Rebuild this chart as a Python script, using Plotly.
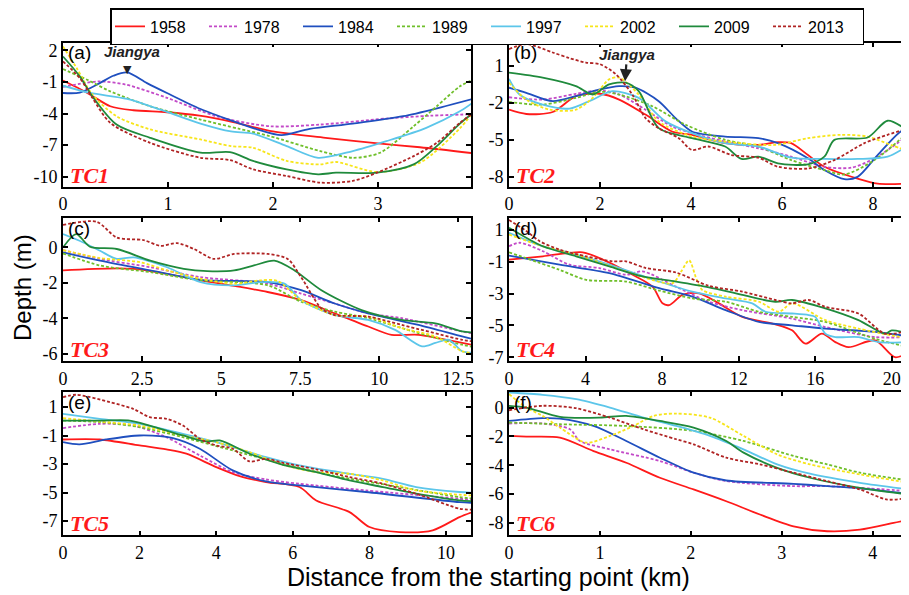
import plotly.graph_objects as go

YEARS = ["1958", "1978", "1984", "1989", "1997", "2002", "2009", "2013"]
COLORS = ["#ff1a1a", "#c34ac8", "#1f4fbf", "#6fbf2a", "#5cc6ea", "#f7e51a", "#1f8a3c", "#b02424"]
DASHES = ["solid", "3px,2px", "solid", "3px,2px", "solid", "3px,2px", "solid", "3px,2px"]

# ---------------- TC1 (a) ----------------
TC1_DIST = {
    "1958": [0, 0.13, 0.26, 0.45, 0.67, 0.99, 1.3, 1.62, 2.0, 2.5, 3.0, 3.4, 3.89],
    "1978": [0, 0.2, 0.35, 0.6, 0.99, 1.46, 1.97, 2.45, 3.08, 3.5, 3.89],
    "1984": [0, 0.16, 0.35, 0.48, 0.61, 0.8, 0.99, 1.31, 1.62, 1.85, 2.08, 2.35, 2.76, 3.24, 3.6, 3.89],
    "1989": [0, 0.23, 0.45, 0.83, 1.31, 1.68, 1.97, 2.45, 2.76, 3.02, 3.34, 3.56, 3.78, 3.89],
    "1997": [0, 0.26, 0.61, 0.92, 1.31, 1.6, 1.81, 2.13, 2.43, 2.76, 3.08, 3.46, 3.78, 3.89],
    "2002": [0, 0.13, 0.28, 0.51, 0.83, 1.31, 1.6, 1.81, 2.13, 2.45, 2.6, 2.99, 3.4, 3.78, 3.89],
    "2009": [0, 0.16, 0.28, 0.51, 0.83, 1.31, 1.59, 1.81, 2.13, 2.43, 2.6, 2.99, 3.34, 3.56, 3.78, 3.89],
    "2013": [0, 0.16, 0.28, 0.45, 0.83, 1.31, 1.59, 1.81, 2.13, 2.45, 2.76, 2.99, 3.34, 3.56, 3.78, 3.89],
}
TC1_DEPTH = {
    "1958": [-0.85, -1.5, -2.2, -3.3, -3.68, -3.87, -4.2, -4.8, -5.7, -6.3, -6.84, -7.2, -7.75],
    "1978": [-1.47, -1.1, -0.94, -1.25, -2.5, -4.25, -5.2, -5.04, -4.47, -4.2, -4.06],
    "1984": [-2.04, -2.0, -1.1, -0.4, -0.08, -1.1, -2.04, -3.56, -4.72, -5.5, -6.05, -5.45, -4.95, -4.25, -3.4, -2.64],
    "1989": [0.23, -0.78, -1.88, -3.3, -4.57, -5.45, -6.14, -7.56, -8.2, -7.72, -5.2, -3.3, -1.41, -0.84],
    "1997": [-1.35, -2.04, -2.6, -3.6, -4.95, -5.7, -5.9, -7.09, -8.2, -7.56, -6.62, -5.35, -3.78, -3.05],
    "2002": [2.38, 0.33, -2.2, -4.25, -5.5, -6.46, -7.09, -7.25, -8.5, -8.83, -8.6, -9.55, -8.66, -5.4, -4.06],
    "2009": [1.43, -0.46, -2.36, -5.04, -6.3, -7.72, -7.66, -8.5, -9.3, -9.77, -9.62, -9.62, -8.83, -7.09, -4.95, -4.06],
    "2013": [0.96, -0.62, -2.5, -4.88, -6.78, -8.2, -8.42, -9.3, -9.93, -10.56, -10.4, -9.62, -8.04, -6.78, -4.88, -4.06],
}

# ---------------- TC2 (b) ----------------
TC2_DIST = {
    "1958": [0, 0.38, 0.96, 1.47, 2.0, 2.42, 3.0, 3.58, 4.02, 4.75, 5.48, 5.91, 6.2, 6.57, 6.93, 7.66, 8.1, 8.79],
    "1978": [0, 0.74, 1.47, 2.0, 2.42, 3.0, 3.58, 4.02, 4.75, 5.48, 6.2, 6.93, 7.52, 8.03, 8.79],
    "1984": [0, 0.38, 0.96, 1.47, 2.0, 2.42, 2.78, 3.29, 3.66, 4.02, 4.75, 5.48, 5.91, 6.57, 6.93, 7.37, 7.66, 8.1, 8.61, 8.79],
    "1989": [0, 0.74, 1.47, 2.0, 2.42, 3.15, 3.88, 4.75, 5.48, 6.2, 6.93, 7.37, 8.03, 8.79],
    "1997": [0, 0.23, 0.74, 1.33, 1.84, 2.27, 2.85, 3.44, 4.02, 4.75, 5.48, 6.2, 6.93, 7.66, 8.32, 8.79],
    "2002": [0, 0.38, 0.89, 1.47, 1.84, 2.2, 2.42, 2.85, 3.29, 4.02, 4.75, 5.84, 6.57, 7.3, 7.88, 8.39, 8.79],
    "2009": [0, 0.74, 1.47, 1.84, 2.2, 2.56, 2.85, 3.29, 4.02, 4.75, 5.11, 5.48, 5.91, 6.57, 6.93, 7.15, 7.88, 8.32, 8.79],
    "2013": [0, 0.38, 0.96, 1.33, 1.69, 2.0, 2.35, 2.71, 3.0, 3.29, 3.73, 4.02, 4.38, 4.89, 5.48, 5.91, 6.57, 7.15, 7.81, 8.32, 8.79],
}
TC2_DEPTH = {
    "1958": [-2.55, -2.9, -2.74, -1.45, -1.26, -1.73, -2.95, -4.32, -4.6, -5.27, -5.41, -5.19, -5.27, -6.23, -7.18, -8.14, -8.55, -8.55],
    "1978": [-1.54, -1.73, -1.26, -0.99, -1.32, -2.55, -3.91, -4.45, -5.14, -5.68, -6.36, -7.18, -7.26, -6.5, -4.59],
    "1984": [-0.77, -1.18, -1.86, -1.45, -0.91, -0.64, -0.77, -1.86, -3.23, -4.32, -4.73, -4.86, -5.27, -6.5, -7.45, -8.19, -8.0, -6.23, -4.32, -4.13],
    "1989": [-1.92, -2.14, -1.59, -1.1, -1.32, -2.27, -3.77, -5.0, -5.54, -6.64, -7.45, -7.81, -6.64, -4.32],
    "1997": [-0.05, -1.32, -2.14, -2.46, -1.73, -1.05, -1.59, -3.5, -4.45, -5.27, -5.54, -6.45, -6.55, -6.55, -6.36, -5.41],
    "2002": [-0.36, -1.73, -2.55, -2.55, -1.59, -0.09, 0.05, -1.32, -3.5, -4.73, -5.14, -5.41, -4.86, -4.59, -4.73, -5.41, -5.95],
    "2009": [0.45, 0.05, -0.64, -1.32, -0.5, -0.36, -1.05, -4.05, -4.86, -5.54, -6.55, -6.36, -6.9, -6.99, -6.36, -5.0, -4.81, -3.45, -4.32],
    "2013": [2.36, 2.77, 2.09, 1.63, 1.27, 1.14, 0.32, -1.32, -3.23, -4.05, -4.86, -5.82, -5.54, -6.23, -6.45, -7.18, -7.32, -6.64, -5.27, -4.59, -4.05],
}

# ---------------- TC3 (c) ----------------
TC3_DIST = {
    "1958": [0, 2.23, 4.35, 6.47, 7.53, 8.59, 9.65, 10.39, 11.24, 12.62, 12.9],
    "1978": [0, 1.17, 2.76, 4.35, 6.47, 7.53, 8.59, 9.65, 10.71, 12.62, 12.9],
    "1984": [0, 1.17, 2.76, 4.35, 6.47, 7.53, 8.59, 9.65, 11.24, 12.62, 12.9],
    "1989": [0, 1.17, 2.76, 4.35, 6.47, 7.53, 8.59, 9.65, 11.24, 12.62, 12.9],
    "1997": [0, 0.64, 1.17, 1.7, 2.23, 3.29, 4.35, 5.41, 6.26, 7.0, 7.53, 8.59, 9.65, 10.5, 11.35, 11.77, 12.2, 12.62, 12.9],
    "2002": [0, 1.17, 2.44, 3.29, 4.35, 5.41, 6.26, 6.79, 7.53, 8.59, 9.65, 10.71, 11.77, 12.62, 12.9],
    "2009": [0, 0.42, 0.85, 1.7, 2.76, 3.82, 4.56, 5.41, 6.04, 6.68, 7.32, 8.17, 9.44, 10.71, 11.77, 12.62, 12.9],
    "2013": [0, 1.06, 1.7, 2.55, 3.08, 3.61, 4.14, 4.77, 5.41, 6.47, 7.1, 7.53, 8.17, 8.59, 9.65, 10.71, 12.62, 12.9],
}
TC3_DEPTH = {
    "1958": [-1.3, -1.21, -1.86, -2.52, -2.98, -3.73, -4.47, -4.94, -4.94, -5.4, -5.5],
    "1978": [-0.15, -0.65, -1.12, -1.68, -2.05, -2.61, -3.17, -3.73, -4.0, -4.75, -4.85],
    "1984": [-0.28, -0.75, -1.3, -1.83, -1.96, -2.42, -3.17, -3.73, -4.38, -5.03, -5.15],
    "1989": [-0.34, -1.02, -1.4, -1.86, -2.14, -3.07, -3.63, -4.0, -4.84, -5.5, -5.6],
    "1997": [0.75, 0.28, -0.19, -0.65, -0.56, -1.12, -1.96, -2.14, -1.96, -2.05, -2.98, -3.82, -4.1, -4.66, -5.59, -5.4, -5.22, -5.87, -5.95],
    "2002": [-0.15, -0.6, -0.84, -1.3, -1.77, -2.05, -1.86, -1.9, -2.98, -3.82, -3.91, -4.56, -5.03, -5.87, -5.95],
    "2009": [0, 0.75, 0.04, -0.09, -0.75, -1.21, -1.34, -1.3, -1.02, -0.75, -1.3, -2.42, -3.54, -4.1, -4.29, -4.75, -4.8],
    "2013": [1.27, 1.45, 0.56, 0.41, 0.09, 0.24, -0.09, -0.65, -0.37, -0.37, -0.65, -1.68, -3.45, -3.82, -3.91, -4.38, -5.22, -5.3],
}

# ---------------- TC4 (d) ----------------
TC4_DIST = {
    "1958": [0, 1.77, 3.85, 4.9, 6.46, 7.5, 8.02, 8.37, 9.06, 9.93, 10.97, 12.19, 13.92, 14.79, 15.49, 16.35, 17.05, 17.74, 19.13, 20.17, 20.9],
    "1978": [0, 0.56, 1.77, 3.16, 4.72, 6.11, 6.98, 8.72, 10.45, 12.19, 14.79, 16.53, 19.13, 20.9],
    "1984": [0, 2.64, 5.24, 7.85, 9.58, 11.32, 13.06, 14.79, 16.53, 19.13, 20.9],
    "1989": [0, 2.64, 4.03, 6.11, 7.85, 9.58, 11.32, 13.06, 14.79, 16.53, 19.13, 20.9],
    "1997": [0, 1.77, 3.51, 5.24, 7.85, 9.58, 11.32, 12.71, 13.4, 14.79, 15.66, 16.0, 16.53, 17.05, 18.26, 19.31, 20.9],
    "2002": [0, 1.77, 3.51, 6.11, 8.54, 9.0, 9.41, 9.8, 10.1, 11.32, 13.06, 14.1, 14.79, 16.53, 18.26, 20.9],
    "2009": [0, 1.77, 3.51, 5.24, 6.98, 8.72, 10.45, 12.19, 13.92, 14.79, 16.53, 18.26, 19.65, 20.0, 20.9],
    "2013": [0, 0.9, 1.6, 2.64, 4.03, 5.42, 6.11, 7.15, 8.72, 10.45, 12.19, 13.92, 14.79, 15.66, 16.53, 18.26, 19.65, 20.9],
}
TC4_DEPTH = {
    "1958": [-0.86, -0.65, -0.4, -0.86, -1.81, -2.56, -3.61, -3.72, -3.08, -2.98, -3.61, -4.46, -4.93, -5.31, -6.15, -5.52, -6.05, -6.37, -5.94, -7.0, -6.68],
    "1978": [-0.02, 0.2, -0.33, -1.18, -1.39, -1.81, -1.6, -2.56, -3.51, -4.04, -4.57, -5.1, -5.73, -5.73],
    "1984": [-0.61, -1.18, -1.71, -2.66, -3.19, -4.04, -4.78, -4.99, -5.2, -5.41, -5.69],
    "1989": [-0.4, -1.5, -2.13, -2.24, -2.81, -3.3, -3.51, -4.14, -4.46, -4.78, -5.84, -6.37],
    "1997": [0.83, -0.02, -0.54, -1.18, -2.24, -2.87, -3.3, -3.61, -4.14, -4.25, -4.35, -4.46, -5.52, -5.73, -5.73, -6.05, -6.05],
    "2002": [0.72, -0.02, -0.54, -1.6, -2.34, -1.6, -0.9, -2.1, -2.77, -3.19, -3.51, -4.14, -3.61, -4.67, -5.2, -5.84],
    "2009": [1.15, -0.02, -0.65, -1.29, -1.92, -2.24, -2.6, -3.08, -3.51, -3.4, -3.93, -4.67, -5.52, -5.31, -5.52],
    "2013": [1.63, 0.94, 0.3, -0.23, -0.65, -0.97, -0.97, -1.39, -1.67, -2.51, -2.87, -3.4, -3.61, -3.4, -3.83, -4.25, -5.52, -5.31],
}

# ---------------- TC5 (e) ----------------
TC5_DIST = {
    "1958": [0, 0.96, 2.0, 2.7, 3.22, 4.0, 4.61, 5.3, 6.17, 6.61, 7.48, 8.0, 8.78, 9.65, 10.35, 10.65],
    "1978": [0, 0.96, 1.83, 2.7, 3.57, 4.43, 5.3, 6.17, 7.91, 10.35, 10.65],
    "1984": [0, 0.43, 1.13, 2.0, 2.87, 3.57, 4.43, 5.3, 6.17, 7.91, 10.35, 10.65],
    "1989": [0, 0.96, 2.0, 3.13, 4.43, 5.74, 7.04, 8.78, 10.35, 10.65],
    "1997": [0, 0.96, 2.0, 3.13, 4.0, 5.3, 6.17, 7.48, 8.35, 9.22, 10.35, 10.65],
    "2002": [0, 0.96, 2.0, 3.13, 4.0, 4.87, 5.74, 6.61, 7.48, 8.35, 9.22, 10.35, 10.65],
    "2009": [0, 0.96, 1.74, 2.26, 3.13, 3.74, 4.09, 4.87, 5.74, 6.61, 7.48, 8.35, 9.22, 10.35, 10.65],
    "2013": [0, 0.35, 1.22, 1.83, 2.26, 2.7, 3.13, 3.57, 4.0, 4.43, 4.87, 5.3, 5.74, 6.61, 7.48, 8.35, 9.22, 10.35, 10.65],
}
TC5_DEPTH = {
    "1958": [-1.27, -1.27, -1.69, -1.97, -2.27, -3.21, -3.84, -4.26, -4.61, -5.55, -6.37, -7.42, -7.77, -7.65, -6.72, -6.4],
    "1978": [-0.47, -0.17, -0.29, -1.11, -2.39, -3.56, -4.08, -4.38, -4.85, -5.43, -5.5],
    "1984": [-1.46, -1.62, -1.27, -0.99, -1.18, -1.92, -3.44, -4.22, -4.5, -4.96, -5.67, -5.72],
    "1989": [0.06, -0.05, -0.4, -1.11, -2.04, -2.98, -3.8, -4.61, -5.32, -5.4],
    "1997": [0.53, 0.18, -0.17, -0.87, -1.46, -2.51, -3.09, -3.68, -4.03, -4.61, -4.96, -5.0],
    "2002": [0.23, -0.01, -0.29, -0.99, -1.46, -2.16, -3.05, -3.56, -3.68, -4.15, -4.85, -5.15, -5.2],
    "2009": [0.06, 0.06, 0.06, -0.29, -0.99, -1.41, -1.34, -2.27, -3.05, -3.56, -4.15, -4.61, -5.08, -5.55, -5.6],
    "2013": [1.7, 1.87, 1.35, 0.88, 0.3, 0.18, -0.29, -1.22, -1.69, -1.92, -2.81, -2.63, -2.91, -3.37, -3.91, -4.38, -5.08, -6.13, -6.2],
}

# ---------------- TC6 (f) ----------------
TC6_DIST = {
    "1958": [0, 0.19, 0.56, 0.93, 1.29, 1.66, 2.03, 2.39, 2.76, 3.13, 3.5, 3.86, 4.23, 4.4],
    "1978": [0, 0.37, 0.67, 0.78, 1.11, 1.66, 2.03, 2.39, 3.13, 3.5, 3.86, 4.4],
    "1984": [0, 0.37, 0.56, 0.93, 1.29, 1.66, 2.03, 2.39, 3.13, 3.5, 3.86, 4.4],
    "1989": [0, 0.56, 1.29, 2.03, 2.58, 3.13, 3.5, 3.86, 4.4],
    "1997": [0, 0.37, 0.74, 1.11, 1.48, 1.84, 2.21, 2.58, 2.95, 3.31, 3.86, 4.4],
    "2002": [0, 0.19, 0.37, 0.56, 0.85, 1.11, 1.37, 1.59, 1.84, 2.21, 2.58, 2.95, 3.31, 3.86, 4.4],
    "2009": [0, 0.19, 0.56, 1.0, 1.29, 1.66, 2.03, 2.39, 2.58, 2.95, 3.31, 3.86, 4.4],
    "2013": [0, 0.37, 0.74, 1.11, 1.48, 1.84, 2.03, 2.39, 2.76, 3.13, 3.5, 3.86, 4.16, 4.4],
}
TC6_DEPTH = {
    "1958": [-1.97, -2.02, -2.09, -3.02, -3.83, -4.87, -5.68, -6.5, -7.42, -8.24, -8.58, -8.47, -8.0, -7.77],
    "1978": [-1.11, -1.11, -1.51, -2.32, -2.9, -3.71, -4.52, -5.1, -5.45, -5.45, -5.57, -5.8],
    "1984": [-0.93, -0.74, -0.77, -1.28, -2.32, -3.48, -4.52, -5.06, -5.29, -5.45, -5.61, -5.99],
    "1989": [-1.04, -1.16, -1.28, -1.62, -2.32, -3.36, -3.94, -4.52, -5.06],
    "1997": [1.04, 0.88, 0.58, 0.0, -0.7, -1.28, -1.97, -2.9, -3.94, -4.59, -5.22, -5.68],
    "2002": [0.93, 0.0, -0.58, -1.39, -2.44, -1.97, -1.28, -0.58, -0.42, -0.7, -1.97, -3.25, -3.94, -4.64, -5.22],
    "2009": [0.12, 0.0, -0.65, -0.7, -0.58, -0.93, -1.39, -2.32, -3.13, -4.18, -4.87, -5.57, -6.03],
    "2013": [-0.19, 0.12, -0.05, -0.7, -1.51, -2.2, -2.55, -3.48, -3.94, -4.52, -5.1, -5.68, -6.38, -6.26],
}

# axis settings per panel
X_RANGES = [[0, 3.886], [0, 8.79], [0, 12.9], [0, 20.9], [0, 10.65], [0, 4.4]]
X_TICKS = [[0, 1, 2, 3], [0, 2, 4, 6, 8], [0, 2.5, 5, 7.5, 10, 12.5],
           [0, 4, 8, 12, 16, 20], [0, 2, 4, 6, 8, 10], [0, 1, 2, 3, 4]]
Y_RANGES = [[-10.95, 2.76], [-8.8, 2.9], [-6.43, 1.69], [-7.25, 1.79], [-8.0, 2.1], [-8.86, 1.11]]
Y_TICKS = [[2, -1, -4, -7, -10], [1, -2, -5, -8], [0, -2, -4, -6],
           [1, -1, -3, -5, -7], [1, -1, -3, -5, -7], [0, -2, -4, -6, -8]]
PANEL_LETTERS = ["(a)", "(b)", "(c)", "(d)", "(e)", "(f)"]
PANEL_NAMES = ["TC1", "TC2", "TC3", "TC4", "TC5", "TC6"]

PANELS = [(TC1_DIST, TC1_DEPTH), (TC2_DIST, TC2_DEPTH), (TC3_DIST, TC3_DEPTH),
          (TC4_DIST, TC4_DEPTH), (TC5_DIST, TC5_DEPTH), (TC6_DIST, TC6_DEPTH)]

# page body has an 8px margin, so the figure is sized to end at the window edge
OFF = 8
W, H = 909 - OFF, 595 - OFF


def px(v):
    return (v - OFF) / W


def py(v):
    return 1 - (v - OFF) / H


LEFT_X = [px(63), px(471)]
RIGHT_X = [px(509), 1.0]
ROWS_Y = [[py(186.7), py(42.5)], [py(361.2), py(217.5)], [py(535.3), py(391.5)]]

SERIF = "Liberation Serif, Times New Roman, serif"
SANS = "Liberation Sans, Arial, sans-serif"

fig = go.Figure()

for p, (dist, depth) in enumerate(PANELS):
    ax = "" if p == 0 else str(p + 1)
    for i, yr in enumerate(YEARS):
        fig.add_trace(go.Scatter(
            x=dist[yr], y=depth[yr], mode="lines", name=yr,
            legendgroup=yr, showlegend=(p == 0),
            line=dict(color=COLORS[i], width=1.8, dash=DASHES[i], shape="spline", smoothing=0.8),
            xaxis="x" + ax, yaxis="y" + ax,
        ))

layout = dict(
    width=W, height=H,
    margin=dict(l=0, r=0, t=0, b=0),
    paper_bgcolor="white", plot_bgcolor="white",
    template="none",
    legend=dict(
        orientation="h", x=px(110), y=1.0, xanchor="left", yanchor="top",
        bordercolor="black", borderwidth=1.5, bgcolor="white",
        font=dict(family=SANS, size=16, color="black"),
        entrywidth=49, entrywidthmode="pixels", itemwidth=30, tracegroupgap=0,
    ),
)

for p in range(6):
    ax = "" if p == 0 else str(p + 1)
    col = p % 2
    row = p // 2
    left = col == 0
    layout["xaxis" + ax] = dict(
        domain=LEFT_X if left else RIGHT_X, range=X_RANGES[p], anchor="y" + ax,
        tickvals=X_TICKS[p], ticktext=[("%g" % v) for v in X_TICKS[p]],
        ticks="inside", ticklen=5, tickwidth=1.5, tickcolor="black",
        showline=True, linecolor="black", linewidth=1.6, mirror="ticks",
        showgrid=False, zeroline=False,
        tickfont=dict(family=SERIF, size=18, color="black"),
    )
    layout["yaxis" + ax] = dict(
        domain=ROWS_Y[row], range=Y_RANGES[p], anchor="x" + ax,
        tickvals=Y_TICKS[p], ticktext=[("%g" % v) for v in Y_TICKS[p]],
        ticks="inside", ticklen=5, tickwidth=1.5, tickcolor="black",
        showline=True, linecolor="black", linewidth=1.6, mirror=("ticks" if left else False),
        showgrid=False, zeroline=False,
        tickfont=dict(family=SERIF, size=18, color="black"),
    )

fig.update_layout(**layout)

annotations = []
for p in range(6):
    ax = "" if p == 0 else str(p + 1)
    annotations.append(dict(
        text=PANEL_LETTERS[p], xref="x" + ax + " domain", yref="y" + ax + " domain",
        x=0.008, y=1.0, xanchor="left", yanchor="top", showarrow=False,
        font=dict(family=SANS, size=19, color="black"), yshift=2,
    ))
    annotations.append(dict(
        text="<b><i>" + PANEL_NAMES[p] + "</i></b>", xref="x" + ax + " domain", yref="y" + ax + " domain",
        x=0.012, y=0.0, xanchor="left", yanchor="bottom", showarrow=False,
        font=dict(family=SERIF, size=22, color="#ff1a1a"), yshift=-3,
    ))

# Jiangya markers
annotations.append(dict(
    text="<b><i>Jiangya</i></b>", xref="x", yref="y", x=0.66, y=1.86,
    xanchor="center", yanchor="middle",
    showarrow=False, font=dict(family=SANS, size=15, color="#222")))
annotations.append(dict(
    text="▼", xref="x", yref="y", x=0.61, y=0.2, xanchor="center", yanchor="middle",
    showarrow=False, font=dict(family="DejaVu Sans", size=11, color="#222")))
annotations.append(dict(
    text="<b><i>Jiangya</i></b>", xref="x2", yref="y2", x=2.55, y=-0.25,
    ax=2, ay=-27, showarrow=True, arrowhead=2, arrowsize=1.1, arrowwidth=2.2,
    arrowcolor="#222", font=dict(family=SANS, size=15, color="#222")))

annotations.append(dict(
    text="Depth (m)", xref="paper", yref="paper", x=px(23), y=py(288),
    xanchor="center", yanchor="middle",
    textangle=-90, showarrow=False, font=dict(family=SANS, size=24, color="black")))
annotations.append(dict(
    text="Distance from the starting point (km)", xref="paper", yref="paper",
    x=px(488), y=py(577), xanchor="center", yanchor="middle",
    showarrow=False, font=dict(family=SANS, size=25, color="black")))

fig.update_layout(annotations=annotations)

fig.write_html("out.html")
